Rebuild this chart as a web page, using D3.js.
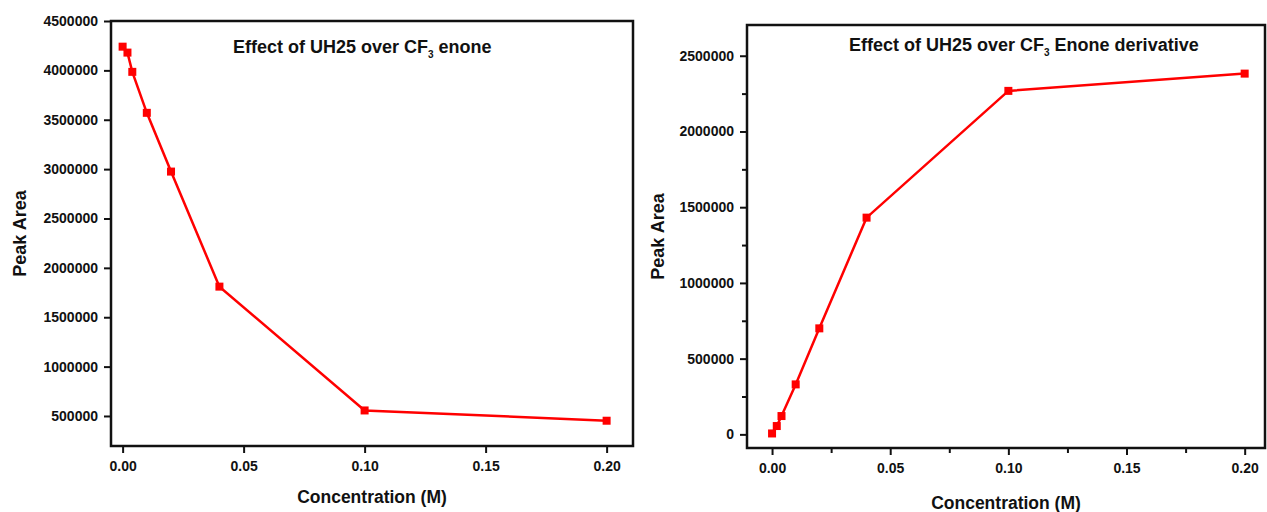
<!DOCTYPE html>
<html>
<head>
<meta charset="utf-8">
<script src="https://cdn.jsdelivr.net/npm/d3@7"></script>
<style>
  body { margin: 0; background: #fff; }
  svg { display: block; font-family: "Liberation Sans", Arial, sans-serif; }
  .tick text { font-weight: bold; font-size: 14px; fill: #111; }
</style>
</head>
<body>
<svg id="chart" width="1267" height="512"></svg>
<script>
// concentration (M) of UH25
var concLeft = [0, 0.002, 0.004, 0.01, 0.02, 0.04, 0.10, 0.20]
var areaLeft = [4240000, 4180000, 3985000, 3570000, 2975000, 1810000, 556000, 452000]

var concRight = [0, 0.002, 0.004, 0.01, 0.02, 0.04, 0.10, 0.20]
var areaRight = [6000, 55000, 121000, 330000, 700000, 1431000, 2268000, 2382000]

var xTicks = [0, 0.05, 0.10, 0.15, 0.20]
var xMinorTicks = [0.025, 0.075, 0.125, 0.175]
var yTicksLeft = [500000, 1000000, 1500000, 2000000, 2500000, 3000000, 3500000, 4000000, 4500000]
var yTicksRight = [0, 500000, 1000000, 1500000, 2000000, 2500000]
var yMinorRight = [250000, 750000, 1250000, 1750000, 2250000]

var svg = d3.select('#chart')

function drawChart(o){
  var x = d3.scaleLinear().domain(o.xDom).range([o.left, o.right])
  var y = d3.scaleLinear().domain(o.yDom).range([o.bottom, o.top])
  var g = svg.append('g')

  // x axis
  g.append('g').attr('transform','translate(0,' + (o.bottom + 1) + ')')
    .call(d3.axisBottom(x).tickValues(xTicks).tickFormat(d3.format('.2f')).tickSize(6).tickSizeOuter(0).tickPadding(8))
  if (o.minor) {
    g.append('g').attr('transform','translate(0,' + (o.bottom + 1) + ')')
      .call(d3.axisBottom(x).tickValues(xMinorTicks).tickFormat('').tickSize(4).tickSizeOuter(0))
  }
  g.append('g').attr('transform','translate(' + (o.left - 1) + ',0)')
    .call(d3.axisLeft(y).tickValues(o.yTicks).tickFormat(d3.format('d')).tickSize(6).tickSizeOuter(0).tickPadding(6))
  if (o.minor) {
    g.append('g').attr('transform','translate(' + (o.left - 1) + ',0)')
      .call(d3.axisLeft(y).tickValues(yMinorRight).tickFormat('').tickSize(4).tickSizeOuter(0))
  }
  g.selectAll('.domain').remove()
  g.selectAll('.tick line').attr('stroke','#111').attr('stroke-width',2)

  // frame
  g.append('rect').attr('x', o.left).attr('y', o.top)
    .attr('width', o.right - o.left).attr('height', o.bottom - o.top)
    .attr('fill','none').attr('stroke','#111').attr('stroke-width',2.5)

  var pts = o.xs.map(function(d,i){ return [d, o.ys[i]] })
  var line = d3.line().x(function(d){ return x(d[0]) }).y(function(d){ return y(d[1]) })
  g.append('path').datum(pts).attr('d', line)
    .attr('fill','none').attr('stroke','#ff0000').attr('stroke-width',2.5)
  g.selectAll('rect.pt').data(pts).enter().append('rect').attr('class','pt')
    .attr('x', function(d){ return x(d[0]) - 4 })
    .attr('y', function(d){ return y(d[1]) - 4 })
    .attr('width', 8).attr('height', 8).attr('fill','#ff0000')

  // title with subscript
  var t = g.append('text').attr('x', o.titleX).attr('y', o.titleY)
    .style('font-weight','bold').style('font-size','18px').attr('fill','#111')
  t.append('tspan').text('Effect of UH25 over CF')
  t.append('tspan').text('3').attr('dy', 5).style('font-size','10px')
  t.append('tspan').text(' ' + o.titleEnd).attr('dy', -5)

  g.append('text').attr('transform','translate(' + o.ylabX + ',' + ((o.top + o.bottom)/2) + ') rotate(-90)')
    .attr('text-anchor','middle').style('font-weight','bold').style('font-size','18px').attr('fill','#111')
    .text('Peak Area')
  g.append('text').attr('x', (o.left + o.right)/2).attr('y', o.xlabY)
    .attr('text-anchor','middle').style('font-weight','bold').style('font-size','17.5px').attr('fill','#111')
    .text('Concentration (M)')
}

drawChart({
  xs: concLeft, ys: areaLeft,
  xDom: [-0.0048, 0.2109], yDom: [196000, 4500000],
  left: 111, right: 633, top: 21, bottom: 446,
  yTicks: yTicksLeft, minor: false,
  titleX: 233, titleY: 53, titleEnd: 'enone',
  ylabX: 26, xlabY: 503
})

drawChart({
  xs: concRight, ys: areaRight,
  xDom: [-0.0106, 0.2086], yDom: [-90000, 2703000],
  left: 747, right: 1265, top: 25, bottom: 448,
  yTicks: yTicksRight, minor: true,
  titleX: 849, titleY: 51, titleEnd: 'Enone derivative',
  ylabX: 664, xlabY: 509
})
</script>
</body>
</html>
